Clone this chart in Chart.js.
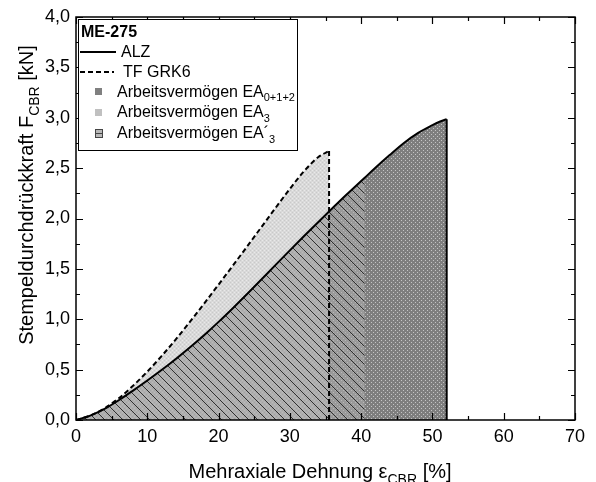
<!DOCTYPE html>
<html><head><meta charset="utf-8">
<script src="https://cdn.jsdelivr.net/npm/chart.js@4.4.0/dist/chart.umd.min.js"></script>
<style>html,body{margin:0;padding:0;background:#fff}#wrap{width:596px;height:482px;position:relative}</style>
</head><body><div id="wrap"><canvas id="c" width="596" height="482"></canvas></div>
<script>
// ---- data ----
const alzStrain = [0,2,4,6,8,10,12,14,16,18,20,22,24,26,28,30,32,34,35.5,38,40.5,42,44,46,48,50,51,52];
const alzForce  = [0,0.044,0.11,0.196,0.292,0.392,0.496,0.606,0.722,0.844,0.974,1.11,1.25,1.394,1.54,1.684,1.826,1.966,2.07,2.24,2.405,2.504,2.63,2.75,2.85,2.926,2.96,2.985];
const tfStrain  = [0,2,4,6,8,10,12,14,16,18,20,22,24,26,28,30,32,34,35.5];
const tfForce   = [0,0.044,0.116,0.216,0.34,0.48,0.634,0.80,0.976,1.158,1.344,1.532,1.722,1.914,2.106,2.294,2.47,2.61,2.67];
const xTicks = [0,10,20,30,40,50,60,70];
const yTicks = [0,0.5,1,1.5,2,2.5,3,3.5,4];
const eaPrime3End = 40.5;   // end of hatched area EA'3
const ea3End = 35.5;        // end of TF GRK6 curve
const legendTitle = 'ME-275';
const seriesNames = ['ALZ','TF GRK6'];

const FONT = "'Liberation Sans', Arial, sans-serif";
const canvas = document.getElementById('c');
const ctx = canvas.getContext('2d');

function makePattern(size, draw){
  const c = document.createElement('canvas'); c.width = c.height = size;
  const g = c.getContext('2d'); draw(g, size);
  return ctx.createPattern(c, 'repeat');
}
function dots(g, s, base, dot){
  g.fillStyle=base; g.fillRect(0,0,s,s); g.fillStyle=dot;
  for (let y=0;y<s;y+=2) for (let x=((y/2)%2)*2+1;x<s;x+=4) g.fillRect(x,y,1,1);
}
const lightPat = makePattern(4, (g)=>{ g.fillStyle='#d9d9d9'; g.fillRect(0,0,4,4); g.fillStyle='#c9c9c9'; g.fillRect(0,0,1,1); g.fillRect(2,2,1,1); g.fillStyle='#e9e9e9'; g.fillRect(2,0,1,1); g.fillRect(0,2,1,1);});
const darkPat = makePattern(4, (g,s)=>dots(g,s,'#7e7e7e','#c4c4c4'));
const midPat  = makePattern(4, (g,s)=>dots(g,s,'#bababa','#e4e4e4'));
const hatchPat = makePattern(9, (g,s)=>{ g.fillStyle='rgba(80,80,80,0.3)'; g.fillRect(0,0,s,s); g.strokeStyle='#303030'; g.lineWidth=1; g.beginPath(); g.moveTo(-1,-1); g.lineTo(s+1,s+1); g.moveTo(-1,s-1); g.lineTo(1,s+1); g.moveTo(s-1,-1); g.lineTo(s+1,1); g.stroke();});

const pts = (xs, ys) => xs.map((x,i)=>({x, y: ys[i]}));
const alzPts = pts(alzStrain, alzForce);
const tfPts = pts(tfStrain, tfForce);
const alzLast = alzPts[alzPts.length-1];
const tfLast = tfPts[tfPts.length-1];

const area = (label, data, pattern, order) => ({label, data, backgroundColor:pattern, fill:'origin', order, pointRadius:0, borderWidth:0, cubicInterpolationMode:'monotone'});

function drawRich(g, parts, x, y, size){
  let cx = x;
  for (const p of parts){
    const s = p.sub ? Math.round(size*0.68) : size;
    g.font = (p.bold?'bold ':'') + s + 'px ' + FONT;
    g.fillText(p.t, cx, y + (p.sub ? size*0.28 : 0));
    cx += g.measureText(p.t).width;
  }
  return cx - x;
}
function measureRich(g, parts, size){
  let w=0;
  for (const p of parts){ const s = p.sub ? Math.round(size*0.68) : size; g.font=(p.bold?'bold ':'')+s+'px '+FONT; w+=g.measureText(p.t).width; }
  return w;
}

const framePlugin = {
  id:'frame',
  afterDatasetsDraw(chart){
    const g = chart.ctx, a = chart.chartArea, xs = chart.scales.x, ys = chart.scales.y;
    g.save();
    g.strokeStyle='#000'; g.lineWidth=1.5;
    g.strokeRect(a.left, a.top, a.right-a.left, a.bottom-a.top);
    g.lineWidth=1.2; g.beginPath();
    for (let v=0; v<=70; v+=5){
      const px = Math.round(xs.getPixelForValue(v))+0.5; const L = (v%10===0)?7:4;
      g.moveTo(px,a.bottom); g.lineTo(px,a.bottom-L); g.moveTo(px,a.top); g.lineTo(px,a.top+L);
    }
    for (let v=0; v<=4.001; v+=0.25){
      const py = Math.round(ys.getPixelForValue(v))+0.5; const L = (Math.abs(v/0.5-Math.round(v/0.5))<1e-6)?7:4;
      g.moveTo(a.left,py); g.lineTo(a.left+L,py); g.moveTo(a.right,py); g.lineTo(a.right-L,py);
    }
    g.stroke();
    g.restore();
  },
  afterDraw(chart){
    const g = chart.ctx;
    g.save();
    g.fillStyle='#000'; g.textBaseline='alphabetic';
    const xt = [{t:'Mehraxiale Dehnung \u03b5'},{t:'CBR',sub:true},{t:' [%]'}];
    const xw = measureRich(g, xt, 20);
    drawRich(g, xt, 320 - xw/2, 478, 20);
    const yt = [{t:'Stempeldurchdrückkraft F'},{t:'CBR',sub:true},{t:' [kN]'}];
    const yw = measureRich(g, yt, 20);
    g.translate(33, 195); g.rotate(-Math.PI/2);
    drawRich(g, yt, -yw/2, 0, 20);
    g.restore();
    // legend
    g.save();
    g.fillStyle='#fff'; g.fillRect(78,19,220,132);
    g.strokeStyle='#000'; g.lineWidth=1; g.strokeRect(78.5,19.5,219,131);
    g.fillStyle='#000';
    drawRich(g, [{t:legendTitle,bold:true}], 81, 37.3, 16);
    g.lineWidth=2; g.beginPath(); g.moveTo(80,52); g.lineTo(116,52); g.stroke();
    drawRich(g, [{t:seriesNames[0]}], 121, 57.3, 16);
    g.setLineDash([5,3]); g.beginPath(); g.moveTo(80,72); g.lineTo(114,72); g.stroke(); g.setLineDash([]);
    drawRich(g, [{t:seriesNames[1]}], 123, 77.3, 16);
    g.fillStyle='#808080'; g.fillRect(95,88,7,7);
    g.fillStyle='#c0c0c0'; g.fillRect(95,109,7,7);
    g.fillStyle='#b8b8b8'; g.fillRect(95,129,7,8);
    g.strokeStyle='#444'; g.lineWidth=1; g.strokeRect(95.5,129.5,7,8); g.beginPath(); g.moveTo(95,133.5); g.lineTo(103,133.5); g.stroke();
    g.fillStyle='#000';
    drawRich(g, [{t:'Arbeitsvermögen EA'},{t:'0+1+2',sub:true}], 117, 96.7, 16);
    drawRich(g, [{t:'Arbeitsvermögen EA'},{t:'3',sub:true}], 117, 117.3, 16);
    drawRich(g, [{t:'Arbeitsvermögen EA\u00b4'},{t:'3',sub:true}], 117, 138.3, 16);
    g.restore();
  }
};

new Chart(canvas, {
  type:'line',
  data:{ datasets:[
    {label:seriesNames[0], data:alzPts, borderColor:'#000', borderWidth:2, pointRadius:0, fill:false, cubicInterpolationMode:'monotone', order:0},
    {label:seriesNames[0]+' end', data:[alzLast,{x:alzLast.x,y:0}], borderColor:'#000', borderWidth:2, pointRadius:0, fill:false, order:0},
    {label:seriesNames[1], data:tfPts, borderColor:'#000', borderWidth:2, borderDash:[5,3], pointRadius:0, fill:false, cubicInterpolationMode:'monotone', order:1},
    {label:seriesNames[1]+' end', data:[tfLast,{x:tfLast.x,y:0}], borderColor:'#000', borderWidth:2, borderDash:[5,3], pointRadius:0, fill:false, order:1},
    area("EA'3", alzPts.filter(p=>p.x<=eaPrime3End), hatchPat, 2),
    area('EA0+1+2 / EA3 overlap', alzPts.filter(p=>p.x>=ea3End && p.x<=eaPrime3End), midPat, 4),
    area('EA0+1+2', alzPts.filter(p=>p.x>=ea3End), darkPat, 5),
    area('EA3', tfPts, lightPat, 6)
  ]},
  options:{
    responsive:false, animation:false, devicePixelRatio:1,
    layout:{padding:{top:17,right:21,left:0,bottom:0}},
    plugins:{legend:{display:false}, tooltip:{enabled:false}},
    scales:{
      x:{type:'linear', min:0, max:70,
        afterBuildTicks:s=>{ s.ticks = xTicks.map(v=>({value:v})); },
        afterFit:s=>{ s.height = 62; },
        grid:{display:false, drawTicks:false}, border:{display:false},
        ticks:{font:{family:FONT,size:18}, color:'#000', padding:6, maxRotation:0, autoSkip:false, callback:v=>String(v)}},
      y:{type:'linear', min:0, max:4,
        afterBuildTicks:s=>{ s.ticks = yTicks.map(v=>({value:v})); },
        afterFit:s=>{ s.width = 76; },
        grid:{display:false, drawTicks:false}, border:{display:false},
        ticks:{font:{family:FONT,size:18}, color:'#000', padding:6, autoSkip:false, callback:v=>v.toFixed(1).replace('.',',')}}
    }
  },
  plugins:[framePlugin]
});
</script></body></html>
